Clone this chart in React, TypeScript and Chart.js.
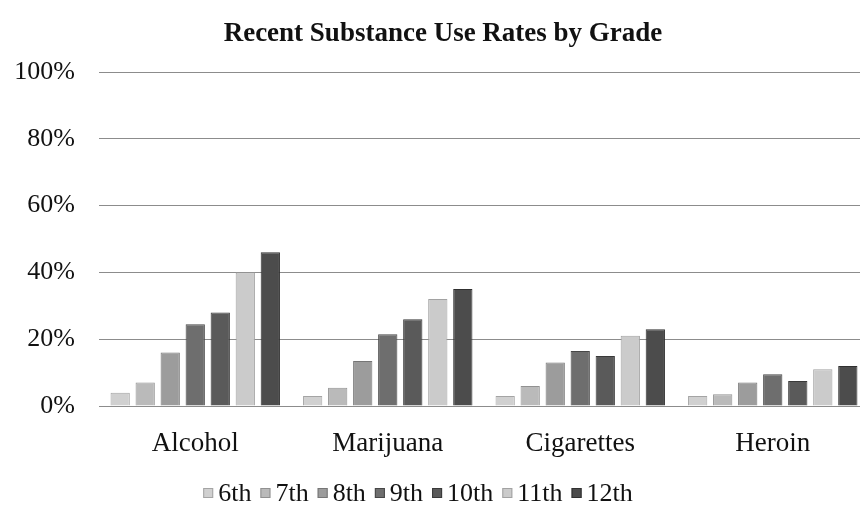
import React, { useEffect, useRef } from "react";
import { Chart, registerables } from "chart.js";

Chart.register(...registerables);

const categories = ["Alcohol", "Marijuana", "Cigarettes", "Heroin"];
const grades = ["6th", "7th", "8th", "9th", "10th", "11th", "12th"];
const grade6 = [4, 3, 3, 3];
const grade7 = [7, 5.5, 6, 3.5];
const grade8 = [16, 13.5, 13, 7];
const grade9 = [24.5, 21.5, 16.5, 9.5];
const grade10 = [28, 26, 15, 7.5];
const grade11 = [40, 32, 21, 11];
const grade12 = [46, 35, 23, 12];
const yTickValues = [0, 20, 40, 60, 80, 100];
const titleText = "Recent Substance Use Rates by Grade";

const seriesValues = [grade6, grade7, grade8, grade9, grade10, grade11, grade12];
const fills = ["#d0d0d0", "#bababa", "#9c9c9c", "#6e6e6e", "#5a5a5a", "#cbcbcb", "#4c4c4c"];
const edges = ["#a4a4a4", "#919191", "#767676", "#474747", "#393939", "#a2a2a2", "#303030"];

const FONT = "'Liberation Serif', 'Times New Roman', serif";

const textPlugin = {
  id: "textPlugin",
  afterDraw(chart: any) {
    const ctx = chart.ctx;
    ctx.save();
    ctx.fillStyle = "#111111";
    ctx.font = `bold 27px ${FONT}`;
    ctx.textAlign = "center";
    ctx.textBaseline = "middle";
    ctx.fillText(titleText, 443, 34);

    // legend
    ctx.font = `26px ${FONT}`;
    const box = 10;
    const gap = 5;
    const spacing = 9;
    const widths = grades.map((g) => ctx.measureText(g).width);
    let total = 0;
    widths.forEach((w, i) => {
      total += box + gap + w + (i < widths.length - 1 ? spacing : 0);
    });
    let x = 418 - total / 2;
    const y = 493;
    ctx.textAlign = "left";
    grades.forEach((g, i) => {
      ctx.fillStyle = fills[i];
      ctx.fillRect(x, y - box / 2, box, box);
      ctx.strokeStyle = edges[i];
      ctx.lineWidth = 1;
      ctx.strokeRect(x + 0.5, y - box / 2 + 0.5, box - 1, box - 1);
      ctx.fillStyle = "#111111";
      ctx.fillText(g, x + box + gap, y + 1);
      x += box + gap + widths[i] + spacing;
    });
    ctx.restore();
  },
};

export default function App() {
  const canvasRef = useRef<HTMLCanvasElement | null>(null);

  useEffect(() => {
    if (!canvasRef.current) return;
    const chart = new Chart(canvasRef.current, {
      type: "bar",
      data: {
        labels: categories,
        datasets: grades.map((g, i) => ({
          label: g,
          data: seriesValues[i],
          backgroundColor: fills[i],
          borderColor: edges[i],
          borderWidth: 1,
          categoryPercentage: 0.91,
          barPercentage: 0.77,
        })),
      },
      options: {
        responsive: false,
        animation: false,
        layout: { padding: { top: 72, bottom: 45, left: 0, right: 1 } },
        plugins: {
          legend: { display: false },
          title: { display: false },
          tooltip: { enabled: false },
        },
        scales: {
          x: {
            grid: { display: false },
            border: { display: false },
            ticks: {
              color: "#111111",
              font: { family: FONT, size: 27 },
              padding: 14,
            },
            afterFit(scale: any) {
              scale.height = 62;
            },
          },
          y: {
            min: 0,
            max: 100,
            afterBuildTicks(scale: any) {
              scale.ticks = yTickValues.map((v) => ({ value: v }));
            },
            grid: { color: "#8c8c8c", lineWidth: 1, drawTicks: false },
            border: { display: false },
            ticks: {
              color: "#111111",
              font: { family: FONT, size: 26 },
              padding: 24,
              callback: (v: any) => `${v}%`,
            },
            afterFit(scale: any) {
              scale.width = 99;
            },
          },
        },
      },
      plugins: [textPlugin],
    });
    return () => chart.destroy();
  }, []);

  return (
    <div
      style={{
        position: "fixed",
        left: 0,
        top: 0,
        width: 860,
        height: 513,
        overflow: "hidden",
        background: "#ffffff",
      }}
    >
      <canvas ref={canvasRef} width={870} height={513} style={{ width: 870, height: 513 }} />
    </div>
  );
}
